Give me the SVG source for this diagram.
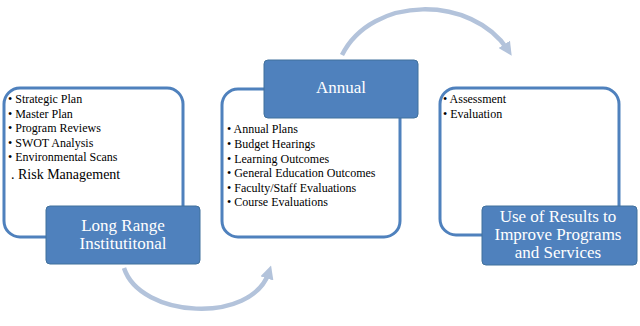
<svg xmlns="http://www.w3.org/2000/svg" width="640" height="326" viewBox="0 0 640 326">
<defs>
<marker id="ah" markerWidth="3" markerHeight="3" refX="1.5" refY="1.5" orient="auto" markerUnits="strokeWidth">
<path d="M0,0 L3,1.5 L0,3 Z" fill="#b3c3db"/>
</marker>
<style>
.outline{fill:#fff;stroke:#4f81bd;stroke-width:3}
.head{fill:#4f81bd;stroke:#41719c;stroke-width:1}
.ht{font-family:"Liberation Serif",serif;font-size:17px;fill:#fff;text-anchor:middle}
.li{font-family:"Liberation Serif",serif;font-size:12px;fill:#000}
.arc{fill:none;stroke:#b3c3db;stroke-width:4.5}
</style>
</defs>
<g id="connectors">
<path class="arc" d="M124,268 C140,318 252,325 269,272" marker-end="url(#ah)"/>
<path class="arc" d="M342,55 C372,-5 472,-5 508,50" marker-end="url(#ah)"/>
</g>
<g id="long-range">
<rect class="outline" x="4" y="88" width="179" height="149" rx="16"/>
<text class="li" x="8" y="103">• Strategic Plan</text>
<text class="li" x="8" y="118">• Master Plan</text>
<text class="li" x="8" y="132">• Program Reviews</text>
<text class="li" x="8" y="147">• SWOT Analysis</text>
<text class="li" x="8" y="161">• Environmental Scans</text>
<text class="li" x="11" y="179" style="font-size:14px">. Risk Management</text>
<rect class="head" x="46" y="206" width="154" height="58" rx="4"/>
<text class="ht" x="123" y="231">Long Range</text>
<text class="ht" x="123" y="249">Institutitonal</text>
</g>
<g id="annual">
<rect class="outline" x="222" y="89" width="178" height="148" rx="16"/>
<rect class="head" x="264" y="60" width="154" height="58" rx="4"/>
<text class="ht" x="341" y="93">Annual</text>
<text class="li" x="227" y="133">• Annual Plans</text>
<text class="li" x="227" y="148">• Budget Hearings</text>
<text class="li" x="227" y="163">• Learning Outcomes</text>
<text class="li" x="227" y="177">• General Education Outcomes</text>
<text class="li" x="227" y="192">• Faculty/Staff Evaluations</text>
<text class="li" x="227" y="206">• Course Evaluations</text>
</g>
<g id="use-of-results">
<rect class="outline" x="440" y="88" width="179" height="147" rx="16"/>
<text class="li" x="443" y="103">• Assessment</text>
<text class="li" x="443" y="118">• Evaluation</text>
<rect class="head" x="482" y="206" width="155" height="59" rx="4"/>
<text class="ht" x="558" y="222">Use of Results to</text>
<text class="ht" x="558" y="240">Improve Programs</text>
<text class="ht" x="558" y="258">and Services</text>
</g>
</svg>
